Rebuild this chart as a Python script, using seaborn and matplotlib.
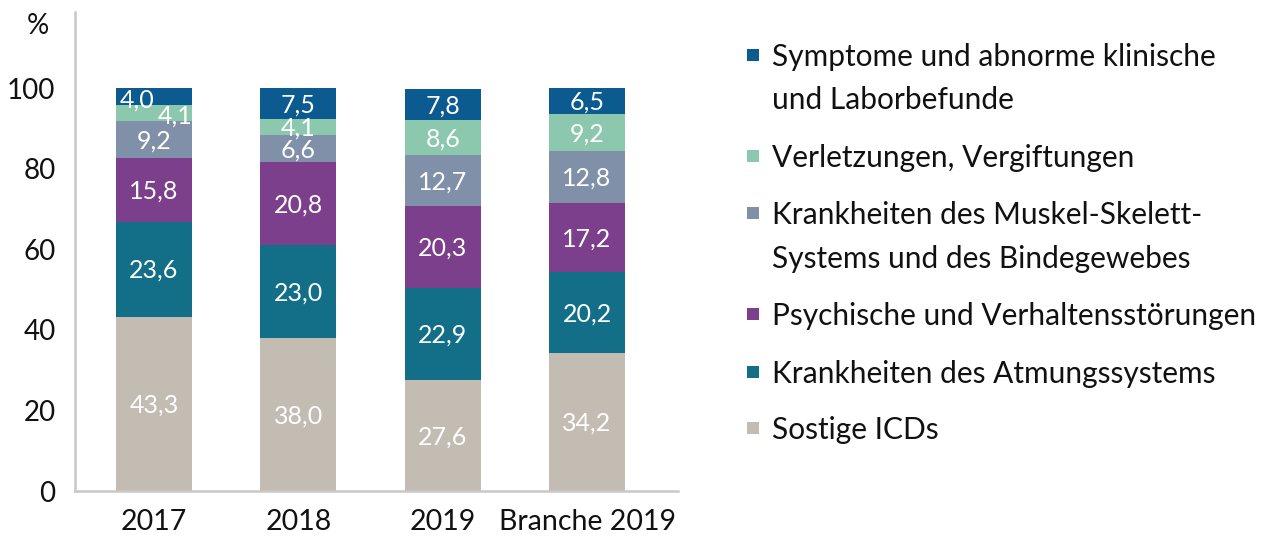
import matplotlib
matplotlib.use("Agg")
import matplotlib.pyplot as plt
import seaborn as sns
import numpy as np
import pandas as pd
from matplotlib.patches import Rectangle

categories = ["2017", "2018", "2019", "Branche 2019"]
series_names = [
    "Sostige ICDs",
    "Krankheiten des Atmungssystems",
    "Psychische und Verhaltensstörungen",
    "Krankheiten des Muskel-Skelett-\nSystems und des Bindegewebes",
    "Verletzungen, Vergiftungen",
    "Symptome und abnorme klinische\nund Laborbefunde",
]
sonstige = [43.3, 38.0, 27.6, 34.2]
atmung = [23.6, 23.0, 22.9, 20.2]
psychisch = [15.8, 20.8, 20.3, 17.2]
muskel = [9.2, 6.6, 12.7, 12.8]
verletzung = [4.1, 4.1, 8.6, 9.2]
symptome = [4.0, 7.5, 7.8, 6.5]
yticks = [0, 20, 40, 60, 80, 100]

colors = ["#c3bcb3", "#136f87", "#7c3f8b", "#7f90a8", "#8cc8ad", "#0b5b91"]

sns.set_theme(style="white")
plt.rcParams["font.family"] = ["Lato", "DejaVu Sans"]

series = [sonstige, atmung, psychisch, muskel, verletzung, symptome]
vals = np.array(series)
cum = np.cumsum(vals, axis=0)

fig = plt.figure(figsize=(12.64, 5.38), dpi=100)
ax = fig.add_axes([75 / 1264, 1 - 491 / 538, (678 - 75) / 1264, (491 - 12) / 538])

for i in range(len(series) - 1, -1, -1):
    df = pd.DataFrame({"cat": categories, "val": cum[i]})
    sns.barplot(data=df, x="cat", y="val", order=categories, color=colors[i],
                width=0.526, saturation=1, ax=ax, linewidth=0, edgecolor="none")

# value labels
xoff = {(4, 0): 0.145, (5, 0): -0.12}
for i in range(len(series)):
    for j in range(len(categories)):
        v = vals[i, j]
        yc = cum[i, j] - v / 2
        dx = xoff.get((i, j), 0)
        dy = -0.8 if (i, j) in xoff else -0.3
        ax.text(j + dx, yc + dy, f"{v:.1f}".replace(".", ","), ha="center", va="center",
                color="white", fontsize=18)

ax.set_xlim(-0.547, 3.63)
ax.set_ylim(0, 119)
ax.set_yticks(yticks)
ax.set_yticklabels([str(t) for t in yticks], fontsize=20)
ax.set_xlabel("")
ax.set_ylabel("")
ax.tick_params(axis="x", labelsize=20.5, length=0, pad=13, colors="#111111")
ax.tick_params(axis="y", direction="in", length=10, width=1.5, color="#c8c8c8",
               pad=14, labelcolor="#111111")
for s in ["top", "right"]:
    ax.spines[s].set_visible(False)
for s in ["left", "bottom"]:
    ax.spines[s].set_color("#c8c8c8")
    ax.spines[s].set_linewidth(1.8)

fig.text(38 / 1264, 1 - 26 / 538, "%", ha="center", va="center", fontsize=20, color="#111111")

# legend (manual, so the marker aligns with the first line)
leg_items = [
    (5, [66, 109]), (4, [167]), (3, [224, 268]), (2, [325]), (1, [383]), (0, [439])
]
for idx, baselines in leg_items:
    fig.add_artist(Rectangle((747 / 1264, 1 - (baselines[0] - 5) / 538), 12 / 1264, 12 / 538,
                             transform=fig.transFigure, color=colors[idx], lw=0))
    for line, bl in zip(series_names[idx].split("\n"), baselines):
        fig.text(772 / 1264, 1 - bl / 538, line, ha="left", va="baseline",
                 fontsize=21.5, color="#111111")

fig.savefig("out.png", dpi=100)
